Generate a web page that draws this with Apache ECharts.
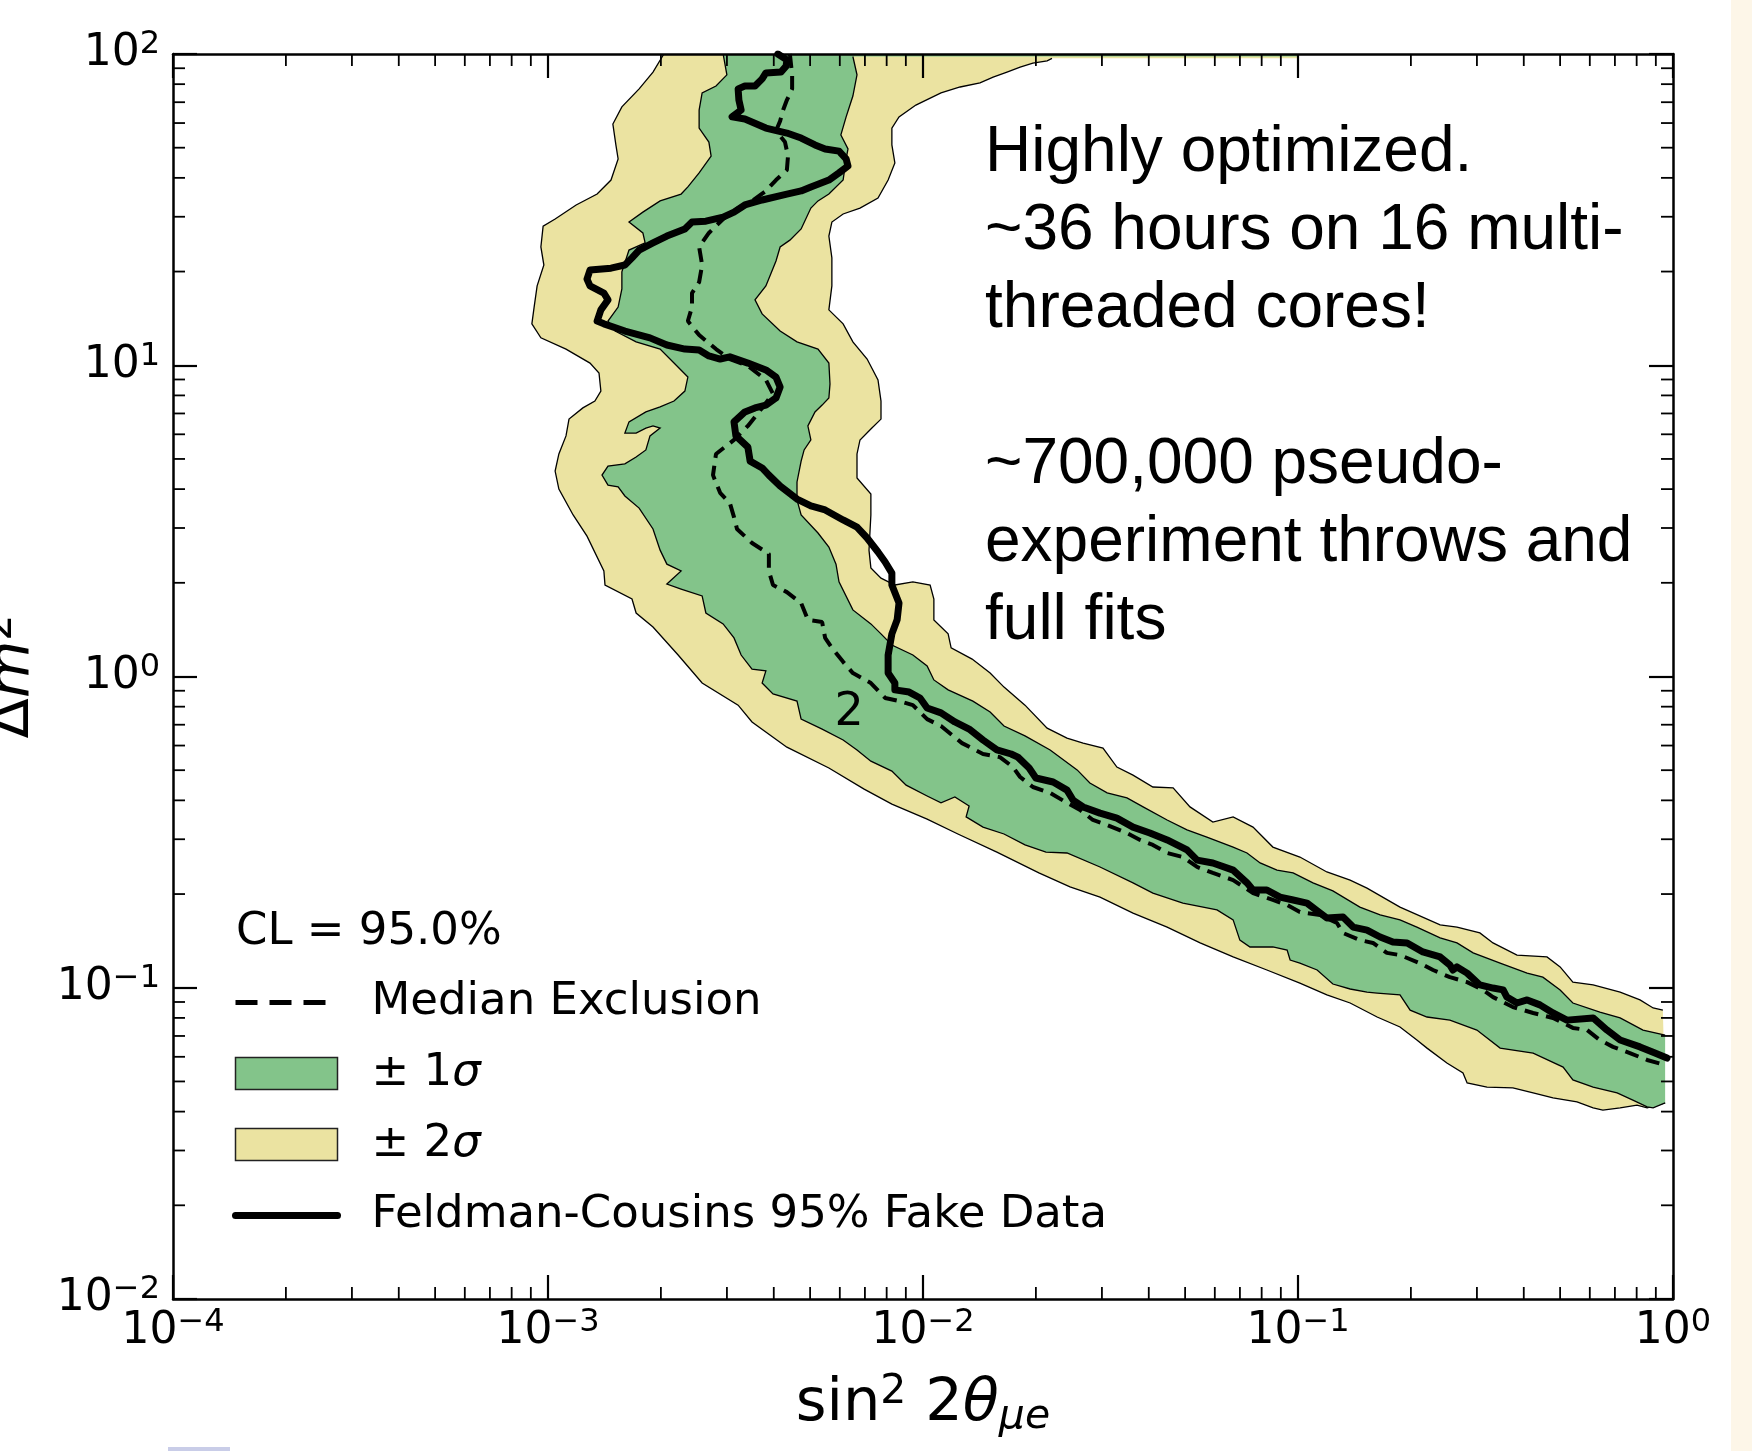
<!DOCTYPE html>
<html>
<head>
<meta charset="utf-8">
<script src="https://cdn.jsdelivr.net/npm/echarts@6/dist/echarts.min.js"></script>
<style>
html,body{margin:0;padding:0;background:#ffffff;}
#c{width:1752px;height:1451px;}
</style>
</head>
<body>
<div id="c"></div>
<script>
// ---------------- data ----------------
// every point: [log10(sin^2 2theta_mue), log10(delta m^2)]
const xTickValues = [1e-4, 1e-3, 1e-2, 1e-1, 1];
const yTickValues = [1e-2, 1e-1, 1, 1e1, 1e2];
const minorMantissas = [2, 3, 4, 5, 6, 7, 8, 9];

const yellowLowerEdge = [[-2.691,2.000],[-2.720,1.942],[-2.757,1.888],[-2.803,1.830],[-2.827,1.775],[-2.819,1.708],[-2.813,1.663],[-2.832,1.595],[-2.869,1.550],[-2.925,1.515],[-2.981,1.470],[-3.013,1.447],[-3.019,1.380],[-3.011,1.322],[-3.029,1.255],[-3.037,1.187],[-3.043,1.133],[-3.019,1.088],[-2.952,1.052],[-2.888,1.007],[-2.864,0.975],[-2.859,0.917],[-2.875,0.885],[-2.907,0.863],[-2.944,0.827],[-2.952,0.773],[-2.971,0.715],[-2.981,0.660],[-2.971,0.602],[-2.933,0.519],[-2.896,0.451],[-2.851,0.339],[-2.848,0.294],[-2.776,0.249],[-2.765,0.204],[-2.720,0.159],[-2.653,0.069],[-2.589,-0.021],[-2.493,-0.092],[-2.456,-0.146],[-2.363,-0.227],[-2.251,-0.294],[-2.157,-0.362],[-2.083,-0.410],[-1.989,-0.458],[-1.907,-0.506],[-1.803,-0.564],[-1.691,-0.631],[-1.608,-0.676],[-1.528,-0.709],[-1.440,-0.760],[-1.349,-0.805],[-1.261,-0.856],[-1.173,-0.901],[-1.083,-0.943],[-0.995,-0.985],[-0.923,-1.023],[-0.861,-1.049],[-0.789,-1.094],[-0.728,-1.126],[-0.683,-1.168],[-0.656,-1.194],[-0.603,-1.242],[-0.560,-1.274],[-0.549,-1.306],[-0.496,-1.319],[-0.427,-1.322],[-0.373,-1.338],[-0.320,-1.354],[-0.256,-1.367],[-0.213,-1.386],[-0.187,-1.393],[-0.141,-1.386],[-0.096,-1.377],[-0.069,-1.386],[-0.021,-1.370]];

const yellowUpperEdge = [[-0.027,-1.072],[-0.053,-1.065],[-0.088,-1.039],[-0.141,-1.014],[-0.213,-0.991],[-0.267,-0.982],[-0.301,-0.933],[-0.336,-0.901],[-0.416,-0.895],[-0.480,-0.856],[-0.515,-0.824],[-0.576,-0.805],[-0.621,-0.798],[-0.728,-0.741],[-0.816,-0.680],[-0.861,-0.654],[-0.923,-0.628],[-0.995,-0.580],[-1.067,-0.548],[-1.120,-0.484],[-1.173,-0.451],[-1.227,-0.468],[-1.288,-0.419],[-1.333,-0.358],[-1.387,-0.355],[-1.440,-0.317],[-1.483,-0.291],[-1.520,-0.230],[-1.573,-0.214],[-1.616,-0.198],[-1.669,-0.166],[-1.728,-0.092],[-1.784,-0.034],[-1.821,0.011],[-1.869,0.056],[-1.925,0.092],[-1.933,0.137],[-1.971,0.182],[-1.971,0.249],[-1.981,0.294],[-2.027,0.304],[-2.075,0.294],[-2.112,0.316],[-2.139,0.349],[-2.144,0.406],[-2.139,0.519],[-2.139,0.586],[-2.176,0.638],[-2.176,0.715],[-2.168,0.760],[-2.139,0.795],[-2.112,0.827],[-2.112,0.885],[-2.120,0.953],[-2.149,1.020],[-2.187,1.075],[-2.213,1.133],[-2.251,1.178],[-2.243,1.255],[-2.243,1.345],[-2.251,1.415],[-2.243,1.460],[-2.213,1.486],[-2.168,1.505],[-2.120,1.537],[-2.093,1.595],[-2.075,1.650],[-2.083,1.708],[-2.083,1.762],[-2.064,1.798],[-2.019,1.836],[-1.952,1.875],[-1.901,1.894],[-1.848,1.907],[-1.813,1.926],[-1.776,1.942],[-1.741,1.958],[-1.707,1.971],[-1.669,1.978],[-1.656,1.986]];
const yellowTopStrip = [[-1.000,1.986],[-1.000,2.000]];

const greenLowerEdge = [[-2.533,2.000],[-2.523,1.933],[-2.552,1.897],[-2.589,1.875],[-2.597,1.820],[-2.597,1.762],[-2.571,1.717],[-2.565,1.672],[-2.597,1.618],[-2.627,1.573],[-2.645,1.550],[-2.701,1.528],[-2.747,1.492],[-2.784,1.460],[-2.747,1.425],[-2.741,1.393],[-2.784,1.370],[-2.803,1.300],[-2.803,1.245],[-2.813,1.187],[-2.840,1.142],[-2.821,1.110],[-2.765,1.075],[-2.701,1.052],[-2.664,1.007],[-2.627,0.962],[-2.635,0.917],[-2.664,0.885],[-2.701,0.866],[-2.739,0.850],[-2.784,0.818],[-2.795,0.782],[-2.765,0.782],[-2.739,0.798],[-2.720,0.805],[-2.701,0.798],[-2.728,0.773],[-2.739,0.728],[-2.765,0.705],[-2.795,0.683],[-2.840,0.676],[-2.856,0.647],[-2.840,0.615],[-2.813,0.609],[-2.795,0.580],[-2.757,0.541],[-2.720,0.474],[-2.701,0.406],[-2.683,0.361],[-2.645,0.339],[-2.683,0.297],[-2.645,0.281],[-2.589,0.259],[-2.579,0.204],[-2.533,0.169],[-2.504,0.124],[-2.485,0.069],[-2.456,0.024],[-2.419,0.018],[-2.429,-0.021],[-2.400,-0.056],[-2.336,-0.079],[-2.325,-0.137],[-2.269,-0.169],[-2.213,-0.204],[-2.176,-0.236],[-2.139,-0.272],[-2.083,-0.304],[-2.045,-0.349],[-1.989,-0.384],[-1.952,-0.406],[-1.915,-0.387],[-1.877,-0.416],[-1.885,-0.451],[-1.840,-0.484],[-1.784,-0.506],[-1.728,-0.541],[-1.672,-0.564],[-1.616,-0.567],[-1.528,-0.612],[-1.440,-0.663],[-1.387,-0.696],[-1.307,-0.728],[-1.216,-0.750],[-1.173,-0.782],[-1.155,-0.847],[-1.128,-0.869],[-1.067,-0.869],[-1.029,-0.879],[-1.021,-0.911],[-0.995,-0.921],[-0.949,-0.943],[-0.907,-0.988],[-0.861,-1.004],[-0.816,-1.014],[-0.789,-1.017],[-0.728,-1.023],[-0.701,-1.072],[-0.656,-1.094],[-0.595,-1.104],[-0.523,-1.136],[-0.461,-1.194],[-0.373,-1.210],[-0.293,-1.255],[-0.267,-1.296],[-0.213,-1.319],[-0.149,-1.338],[-0.107,-1.361],[-0.069,-1.383],[-0.053,-1.386],[-0.021,-1.370]];

const greenUpperEdge = [[-0.021,-1.152],[-0.080,-1.136],[-0.141,-1.097],[-0.195,-1.078],[-0.267,-1.049],[-0.301,-1.007],[-0.347,-0.966],[-0.389,-0.953],[-0.461,-0.921],[-0.533,-0.888],[-0.576,-0.856],[-0.621,-0.840],[-0.683,-0.805],[-0.728,-0.782],[-0.781,-0.766],[-0.835,-0.741],[-0.907,-0.689],[-0.960,-0.663],[-1.013,-0.631],[-1.056,-0.622],[-1.101,-0.599],[-1.136,-0.567],[-1.173,-0.548],[-1.243,-0.516],[-1.296,-0.493],[-1.349,-0.461],[-1.413,-0.419],[-1.456,-0.390],[-1.509,-0.374],[-1.555,-0.342],[-1.589,-0.300],[-1.661,-0.236],[-1.728,-0.191],[-1.784,-0.159],[-1.821,-0.114],[-1.867,-0.079],[-1.933,-0.043],[-1.971,-0.011],[-1.989,0.034],[-2.027,0.069],[-2.083,0.101],[-2.112,0.137],[-2.139,0.169],[-2.187,0.214],[-2.224,0.304],[-2.232,0.361],[-2.251,0.416],[-2.280,0.461],[-2.325,0.519],[-2.336,0.567],[-2.336,0.625],[-2.325,0.692],[-2.317,0.728],[-2.299,0.760],[-2.307,0.805],[-2.288,0.850],[-2.269,0.872],[-2.251,0.895],[-2.248,0.940],[-2.251,1.007],[-2.280,1.052],[-2.336,1.075],[-2.381,1.110],[-2.429,1.165],[-2.448,1.210],[-2.419,1.255],[-2.392,1.335],[-2.381,1.380],[-2.355,1.402],[-2.325,1.438],[-2.299,1.505],[-2.280,1.528],[-2.251,1.550],[-2.213,1.595],[-2.205,1.663],[-2.200,1.695],[-2.219,1.740],[-2.205,1.798],[-2.187,1.865],[-2.176,1.933],[-2.187,1.992]];
const greenTopStrip = [[-1.000,1.992],[-1.000,2.000]];

const medianLine = [[-2.355,2.000],[-2.349,1.933],[-2.349,1.888],[-2.363,1.852],[-2.373,1.820],[-2.381,1.785],[-2.392,1.753],[-2.368,1.717],[-2.360,1.672],[-2.363,1.627],[-2.392,1.595],[-2.419,1.560],[-2.456,1.528],[-2.493,1.505],[-2.533,1.470],[-2.571,1.425],[-2.597,1.380],[-2.589,1.322],[-2.597,1.267],[-2.616,1.232],[-2.616,1.187],[-2.627,1.142],[-2.597,1.097],[-2.552,1.052],[-2.515,1.020],[-2.467,0.998],[-2.419,0.953],[-2.400,0.908],[-2.429,0.863],[-2.467,0.805],[-2.504,0.760],[-2.552,0.715],[-2.560,0.647],[-2.541,0.590],[-2.515,0.557],[-2.504,0.512],[-2.496,0.474],[-2.456,0.429],[-2.411,0.394],[-2.411,0.339],[-2.400,0.294],[-2.363,0.271],[-2.325,0.236],[-2.307,0.182],[-2.269,0.175],[-2.261,0.124],[-2.243,0.092],[-2.213,0.047],[-2.187,0.011],[-2.139,-0.021],[-2.101,-0.069],[-2.064,-0.079],[-2.027,-0.092],[-1.989,-0.137],[-1.952,-0.159],[-1.896,-0.214],[-1.840,-0.249],[-1.795,-0.259],[-1.760,-0.291],[-1.741,-0.323],[-1.707,-0.355],[-1.661,-0.374],[-1.616,-0.406],[-1.581,-0.429],[-1.547,-0.461],[-1.509,-0.477],[-1.456,-0.503],[-1.421,-0.525],[-1.387,-0.541],[-1.349,-0.567],[-1.307,-0.580],[-1.269,-0.612],[-1.227,-0.631],[-1.173,-0.654],[-1.120,-0.696],[-1.067,-0.718],[-1.029,-0.734],[-0.995,-0.757],[-0.941,-0.766],[-0.896,-0.792],[-0.880,-0.824],[-0.835,-0.847],[-0.800,-0.856],[-0.763,-0.888],[-0.728,-0.895],[-0.675,-0.921],[-0.640,-0.943],[-0.595,-0.966],[-0.549,-0.982],[-0.507,-1.007],[-0.480,-1.030],[-0.427,-1.062],[-0.373,-1.081],[-0.320,-1.097],[-0.267,-1.129],[-0.229,-1.136],[-0.195,-1.168],[-0.160,-1.190],[-0.115,-1.210],[-0.069,-1.232],[-0.021,-1.248]];

const fcLine = [[-2.387,2.000],[-2.363,1.981],[-2.365,1.961],[-2.379,1.942],[-2.419,1.939],[-2.429,1.920],[-2.448,1.897],[-2.475,1.897],[-2.493,1.888],[-2.491,1.852],[-2.485,1.820],[-2.509,1.798],[-2.475,1.791],[-2.419,1.762],[-2.363,1.746],[-2.325,1.730],[-2.288,1.708],[-2.261,1.695],[-2.224,1.688],[-2.205,1.663],[-2.200,1.640],[-2.224,1.618],[-2.251,1.595],[-2.299,1.573],[-2.325,1.560],[-2.363,1.550],[-2.429,1.531],[-2.475,1.515],[-2.504,1.492],[-2.533,1.476],[-2.579,1.463],[-2.616,1.460],[-2.635,1.438],[-2.683,1.415],[-2.720,1.393],[-2.757,1.370],[-2.776,1.345],[-2.795,1.322],[-2.832,1.312],[-2.888,1.306],[-2.896,1.277],[-2.888,1.255],[-2.851,1.232],[-2.840,1.210],[-2.859,1.178],[-2.869,1.142],[-2.851,1.133],[-2.795,1.110],[-2.728,1.088],[-2.683,1.065],[-2.635,1.052],[-2.597,1.049],[-2.571,1.030],[-2.541,1.020],[-2.515,1.027],[-2.467,1.007],[-2.419,0.985],[-2.392,0.962],[-2.381,0.930],[-2.392,0.895],[-2.419,0.872],[-2.448,0.863],[-2.475,0.850],[-2.504,0.818],[-2.499,0.773],[-2.467,0.737],[-2.461,0.692],[-2.429,0.670],[-2.411,0.647],[-2.381,0.612],[-2.336,0.570],[-2.299,0.548],[-2.261,0.535],[-2.213,0.503],[-2.176,0.480],[-2.149,0.445],[-2.120,0.400],[-2.101,0.368],[-2.083,0.332],[-2.083,0.294],[-2.064,0.236],[-2.069,0.182],[-2.083,0.137],[-2.093,0.069],[-2.093,0.011],[-2.075,-0.021],[-2.075,-0.043],[-2.037,-0.050],[-2.008,-0.069],[-1.989,-0.101],[-1.952,-0.117],[-1.915,-0.146],[-1.877,-0.169],[-1.840,-0.204],[-1.803,-0.236],[-1.765,-0.249],[-1.747,-0.259],[-1.717,-0.294],[-1.699,-0.326],[-1.653,-0.339],[-1.616,-0.365],[-1.600,-0.397],[-1.573,-0.419],[-1.528,-0.439],[-1.483,-0.455],[-1.440,-0.484],[-1.395,-0.503],[-1.349,-0.525],[-1.296,-0.557],[-1.269,-0.590],[-1.227,-0.599],[-1.173,-0.622],[-1.136,-0.663],[-1.120,-0.686],[-1.083,-0.686],[-1.048,-0.709],[-1.013,-0.718],[-0.976,-0.728],[-0.941,-0.760],[-0.923,-0.776],[-0.880,-0.773],[-0.853,-0.805],[-0.816,-0.815],[-0.781,-0.837],[-0.747,-0.853],[-0.709,-0.856],[-0.667,-0.885],[-0.621,-0.901],[-0.595,-0.927],[-0.587,-0.943],[-0.576,-0.933],[-0.549,-0.953],[-0.515,-0.991],[-0.480,-1.001],[-0.453,-1.007],[-0.443,-1.030],[-0.416,-1.049],[-0.389,-1.039],[-0.355,-1.055],[-0.320,-1.081],[-0.283,-1.104],[-0.213,-1.097],[-0.176,-1.136],[-0.141,-1.168],[-0.088,-1.190],[-0.053,-1.207],[-0.016,-1.226]];

const contourLabel = [[-2.197, -0.117, '2']];

const legendNames = ['Median Exclusion', '\u00b11\u03c3', '\u00b12\u03c3', 'Feldman-Cousins 95% Fake Data'];
const legendTitle = 'CL = 95.0%';
const annotationLines = ['Highly optimized.', '~36 hours on 16 multi-', 'threaded cores!', '', '~700,000 pseudo-', 'experiment throws and', 'full fits'];

// ---------------- styling ----------------
const GREEN = '#83c48a';
const YELLOW = '#ebe3a1';
const FONT = 'DejaVu Sans';

const toVal = p => [Math.pow(10, p[0]), Math.pow(10, p[1])];
const xMin = xTickValues[0], xMax = xTickValues[xTickValues.length - 1];
const yMin = yTickValues[0], yMax = yTickValues[yTickValues.length - 1];
const xMinor = [], yMinor = [];
xTickValues.slice(0, -1).forEach(d => minorMantissas.forEach(m => xMinor.push(d * m)));
yTickValues.slice(0, -1).forEach(d => minorMantissas.forEach(m => yMinor.push(d * m)));

function bandSeries(name, lower, upper, strip, fill) {
  const lo = lower.map(toVal), up = upper.map(toVal), st = strip.map(toVal);
  const all = lo.concat(up, st);
  return {
    name: name, type: 'custom', coordinateSystem: 'cartesian2d', xAxisIndex: 0, yAxisIndex: 0,
    clip: true, silent: true, z: 2, animation: false,
    itemStyle: {color: fill},
    encode: {x: 0, y: 1},
    data: all,
    renderItem: function (params, api) {
      if (params.dataIndex !== 0) return null;
      return {
        type: 'group',
        children: [
          {type: 'polygon', shape: {points: all.map(p => api.coord(p))}, style: {fill: fill, stroke: null}},
          {type: 'polyline', shape: {points: lo.map(p => api.coord(p))}, style: {fill: null, stroke: '#000', lineWidth: 1.3}},
          {type: 'polyline', shape: {points: up.map(p => api.coord(p))}, style: {fill: null, stroke: '#000', lineWidth: 1.3}}
        ]
      };
    }
  };
}

function powLabel(v) {
  const e = Math.round(Math.log10(v));
  return '{b|10}{s|' + (e < 0 ? '\u2212' + (-e) : String(e)) + '}';
}
const tickRich = {
  b: {fontFamily: FONT, fontSize: 44, lineHeight: 50, color: '#000'},
  s: {fontFamily: FONT, fontSize: 32, lineHeight: 32, verticalAlign: 'top', color: '#000'}
};
const nameRich = {
  n: {fontFamily: FONT, fontSize: 59, lineHeight: 66, color: '#000'},
  it: {fontFamily: FONT, fontSize: 59, fontStyle: 'italic', lineHeight: 66, color: '#000'},
  sup: {fontFamily: FONT, fontSize: 41, lineHeight: 30, verticalAlign: 'top', color: '#000'},
  sub: {fontFamily: FONT, fontSize: 41, fontStyle: 'italic', lineHeight: 38, verticalAlign: 'bottom', color: '#000'}
};

function logAxis(pos, main, isX) {
  const a = {
    type: 'log', logBase: 10, min: isX ? xMin : yMin, max: isX ? xMax : yMax,
    position: pos, z: 5,
    axisLine: {show: true, onZero: false, lineStyle: {color: '#000', width: 2.5}},
    axisTick: {show: true, inside: true, length: 24, lineStyle: {color: '#000', width: 2.2}},
    splitLine: {show: false}, minorTick: {show: false}, minorSplitLine: {show: false},
    axisLabel: {show: main, margin: isX ? 8 : 13, formatter: powLabel, rich: tickRich}
  };
  if (main && isX) {
    a.name = '{n|sin}{sup|2}{n| 2}{it|\u03b8}{sub|\u03bce}';
    a.nameLocation = 'middle'; a.nameGap = 73; a.nameTextStyle = {rich: nameRich};
  }
  if (main && !isX) {
    a.name = '{n|\u0394}{it|m}{sup|2}';
    a.nameLocation = 'middle'; a.nameRotate = 90; a.nameGap = 127; a.nameTextStyle = {rich: nameRich};
  }
  return a;
}

function minorTickSeries(vals, isX) {
  return {
    type: 'custom', coordinateSystem: 'cartesian2d', xAxisIndex: 0, yAxisIndex: 0,
    silent: true, clip: false, z: 10, animation: false,
    data: vals.map(v => isX ? [v, yMin] : [xMin, v]),
    renderItem: function (params, api) {
      const st = {stroke: '#000', lineWidth: 1.8};
      if (isX) {
        const v = api.value(0);
        const b = api.coord([v, yMin]), t = api.coord([v, yMax]);
        return {type: 'group', children: [
          {type: 'line', shape: {x1: b[0], y1: b[1], x2: b[0], y2: b[1] - 12}, style: st},
          {type: 'line', shape: {x1: t[0], y1: t[1], x2: t[0], y2: t[1] + 12}, style: st}
        ]};
      }
      const v = api.value(1);
      const l = api.coord([xMin, v]), r = api.coord([xMax, v]);
      return {type: 'group', children: [
        {type: 'line', shape: {x1: l[0], y1: l[1], x2: l[0] + 12, y2: l[1]}, style: st},
        {type: 'line', shape: {x1: r[0], y1: r[1], x2: r[0] - 12, y2: r[1]}, style: st}
      ]};
    }
  };
}

const chart = echarts.init(document.getElementById('c'), null, {renderer: 'canvas', width: 1752, height: 1451});

const legendRichNames = {};
legendRichNames[legendNames[0]] = '{sp| }{t|Median Exclusion}';
legendRichNames[legendNames[1]] = '{sp| }{t|\u00b1 1}{i|\u03c3}';
legendRichNames[legendNames[2]] = '{sp| }{t|\u00b1 2}{i|\u03c3}';
legendRichNames[legendNames[3]] = '{sp| }{t|Feldman-Cousins 95% Fake Data}';
const hiddenSymbol = {color: 'rgba(0,0,0,0)', borderColor: 'rgba(0,0,0,0)', borderWidth: 0, opacity: 0};

chart.setOption({
  animation: false,
  backgroundColor: '#ffffff',
  grid: {left: 173, top: 54, width: 1500, height: 1245, containLabel: false, outerBoundsMode: 'none'},
  title: {
    text: legendTitle, left: 236, top: 907, padding: 0,
    textStyle: {fontFamily: FONT, fontSize: 45, fontWeight: 'normal', color: '#000', lineHeight: 50}
  },
  legend: {
    orient: 'vertical', left: 232, top: 980, itemWidth: 102, itemHeight: 32, itemGap: 26,
    selectedMode: false, padding: 0,
    data: [
      {name: legendNames[0], lineStyle: {type: [22, 12], width: 5, color: '#000'}, itemStyle: hiddenSymbol},
      {name: legendNames[1], icon: 'rect', itemStyle: {color: GREEN, borderColor: '#222', borderWidth: 1.5}},
      {name: legendNames[2], icon: 'rect', itemStyle: {color: YELLOW, borderColor: '#222', borderWidth: 1.5}},
      {name: legendNames[3], lineStyle: {width: 7, color: '#000'}, itemStyle: hiddenSymbol}
    ],
    formatter: function (name) { return legendRichNames[name]; },
    textStyle: {
      fontFamily: FONT, fontSize: 45, color: '#000',
      rich: {
        sp: {width: 29, fontSize: 45, lineHeight: 50},
        t: {fontFamily: FONT, fontSize: 45, lineHeight: 50, color: '#000'},
        i: {fontFamily: FONT, fontSize: 45, fontStyle: 'italic', lineHeight: 50, color: '#000'}
      }
    }
  },
  xAxis: [logAxis('bottom', true, true), logAxis('top', false, true)],
  yAxis: [logAxis('left', true, false), logAxis('right', false, false)],
  graphic: [
    {type: 'rect', shape: {x: 1731, y: 0, width: 21, height: 1451}, style: {fill: '#fdf6e8'}, z: 0},
    {type: 'rect', shape: {x: 168, y: 1447, width: 62, height: 4}, style: {fill: '#c9cde8'}, z: 0},
    {type: 'text', left: 985, top: 114, z: 20,
     style: {text: annotationLines.join('\n'), fontFamily: 'Liberation Sans', fontSize: 64, lineHeight: 78, fill: '#000'}}
  ],
  series: [
    bandSeries(legendNames[2], yellowLowerEdge, yellowUpperEdge, yellowTopStrip, YELLOW),
    bandSeries(legendNames[1], greenLowerEdge, greenUpperEdge, greenTopStrip, GREEN),
    {
      name: legendNames[0], type: 'line', xAxisIndex: 0, yAxisIndex: 0, z: 3,
      data: medianLine.map(toVal), symbol: 'none', showSymbol: false, clip: true,
      lineStyle: {color: '#000', width: 4, type: [14, 8]}, itemStyle: {color: '#000'}
    },
    {
      name: legendNames[3], type: 'line', xAxisIndex: 0, yAxisIndex: 0, z: 4,
      data: fcLine.map(toVal), symbol: 'none', showSymbol: false, clip: true,
      lineStyle: {color: '#000', width: 7, join: 'round', cap: 'round'}, itemStyle: {color: '#000'}
    },
    {
      type: 'custom', coordinateSystem: 'cartesian2d', xAxisIndex: 0, yAxisIndex: 0, z: 6, silent: true,
      data: contourLabel.map(p => [Math.pow(10, p[0]), Math.pow(10, p[1]), p[2]]),
      renderItem: function (params, api) {
        const c = api.coord([api.value(0), api.value(1)]);
        return {type: 'text', x: c[0], y: c[1],
          style: {text: contourLabel[params.dataIndex][2], fontFamily: FONT, fontSize: 46, fill: '#000', align: 'center', verticalAlign: 'middle'}};
      }
    },
    minorTickSeries(xMinor, true),
    minorTickSeries(yMinor, false)
  ]
});
</script>
</body>
</html>
